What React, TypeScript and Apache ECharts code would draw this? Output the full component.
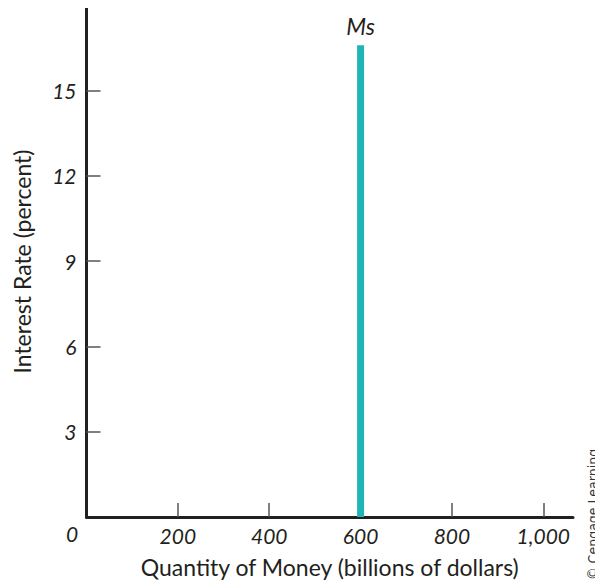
import React, { useEffect, useRef } from "react";
import * as echarts from "echarts";

const xTicks = [0, 200, 400, 600, 800, 1000];
const yTicks = [0, 3, 6, 9, 12, 15];
const msQuantity = 600;
const msLine = [
  [msQuantity, 0],
  [msQuantity, 16.6],
];
const seriesName = "Ms";
const xTitle = "Quantity of Money (billions of dollars)";
const yTitle = "Interest Rate (percent)";
const credit = "© Cengage Learning";

const FONT = "Lato, 'Noto Sans', sans-serif";

export default function App() {
  const ref = useRef<HTMLDivElement>(null);
  useEffect(() => {
    if (!ref.current) return;
    const chart = echarts.init(ref.current, undefined, { renderer: "svg" });
    chart.setOption({
      animation: false,
      backgroundColor: "#ffffff",
      grid: { left: 86.5, right: 30, top: 6, bottom: 71, containLabel: false },
      xAxis: {
        type: "value",
        min: 0,
        max: 1065,
        interval: 200,
        axisLine: { show: true, lineStyle: { color: "#231f20", width: 3 } },
        axisTick: { show: true, inside: true, length: 14, lineStyle: { color: "#555", width: 1.5 } },
        splitLine: { show: false },
        axisLabel: {
          showMinLabel: false,
          showMaxLabel: false,
          fontFamily: FONT,
          fontStyle: "italic",
          fontSize: 21,
          color: "#231f20",
          margin: 8,
          formatter: (v: number) => (xTicks.includes(v) ? v.toLocaleString("en-US") : ""),
        },
        name: xTitle,
        nameLocation: "middle",
        nameGap: 38,
        nameTextStyle: { fontFamily: FONT, fontSize: 23, color: "#231f20" },
      },
      yAxis: {
        type: "value",
        min: 0,
        max: 17.98,
        interval: 3,
        axisLine: { show: true, lineStyle: { color: "#231f20", width: 3 } },
        axisTick: { show: true, inside: true, length: 14, lineStyle: { color: "#555", width: 1.5 } },
        splitLine: { show: false },
        axisLabel: {
          showMinLabel: false,
          showMaxLabel: false,
          fontFamily: FONT,
          fontStyle: "italic",
          fontSize: 21,
          color: "#231f20",
          margin: 10,
          formatter: (v: number) => (yTicks.includes(v) ? String(v) : ""),
        },
        name: yTitle,
        nameLocation: "middle",
        nameGap: 53,
        nameTextStyle: { fontFamily: FONT, fontSize: 23, color: "#231f20" },
      },
      series: [
        {
          type: "line",
          name: seriesName,
          symbol: "circle",
          symbolSize: 0,
          showSymbol: true,
          lineStyle: { color: "#1fb5b8", width: 7, cap: "butt" },
          itemStyle: { color: "#1fb5b8" },
          data: msLine.map((p, i) =>
            i === msLine.length - 1
              ? {
                  value: p,
                  label: {
                    show: true,
                    position: "top",
                    distance: 8,
                    formatter: seriesName,
                    fontFamily: FONT,
                    fontStyle: "italic",
                    fontSize: 23,
                    color: "#231f20",
                  },
                }
              : { value: p }
          ),
        },
      ],
      graphic: [
        {
          type: "text",
          left: 66,
          top: 523,
          style: {
            text: "0",
            fontFamily: FONT,
            fontStyle: "italic",
            fontSize: 21,
            fill: "#231f20",
          },
        },
        {
          type: "group",
          x: 586,
          y: 580,
          rotation: Math.PI / 2,
          children: [
            {
              type: "text",
              x: 0,
              y: 0,
              style: {
                text: credit,
                fontFamily: "'Liberation Sans Narrow', 'DejaVu Sans Condensed', 'Noto Sans', sans-serif",
                fontSize: 14,
                fill: "#333",
                align: "left",
                verticalAlign: "top",
              },
            },
          ],
        },
      ],
    });
    return () => chart.dispose();
  }, []);
  return <div ref={ref} style={{ width: 603, height: 588, margin: -8 }} />;
}
